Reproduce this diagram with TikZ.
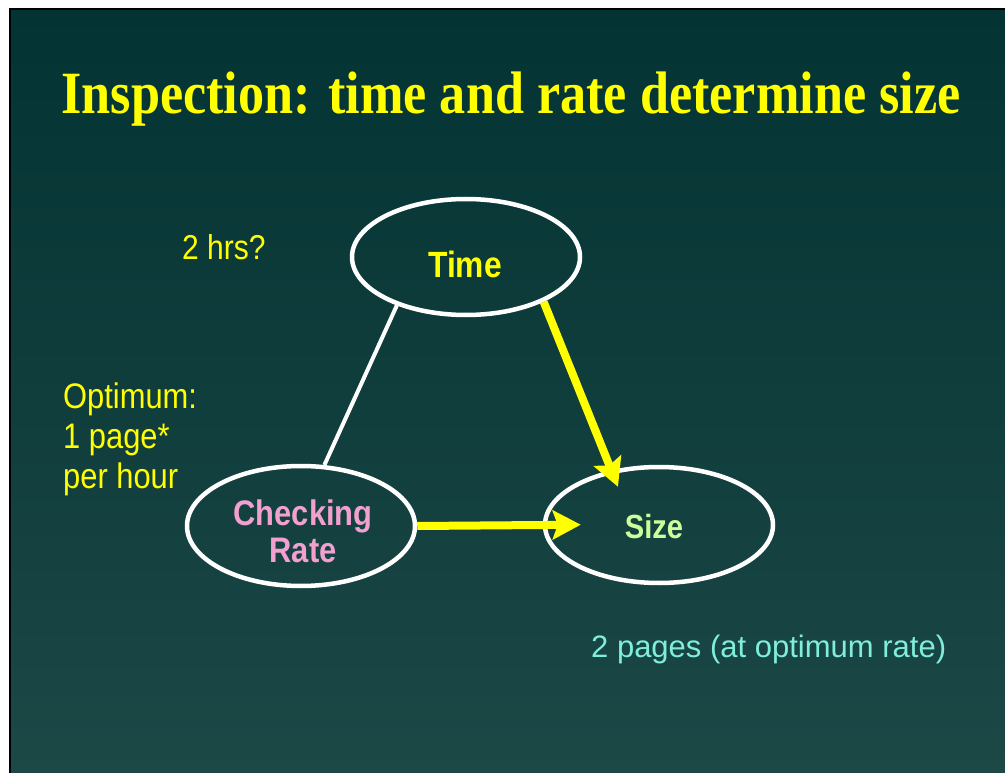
\documentclass[tikz,border=0pt]{standalone}
\usepackage{fontspec}
\usepackage{xcolor}
\usepackage{tikz}
\usetikzlibrary{arrows.meta,shapes.geometric}
\setmainfont{Liberation Sans}
\newfontfamily\titlefont[FakeStretch=0.87]{Liberation Serif}
\newfontfamily\slidefont[FakeStretch=0.87]{Liberation Sans}
\definecolor{slideyellow}{HTML}{FFFF00}
\definecolor{ratepink}{HTML}{F2A0D0}
\definecolor{sizegreen}{HTML}{CCFF99}
\definecolor{notecyan}{HTML}{80EEDD}
\definecolor{bgtop}{HTML}{033333}
\definecolor{bgbottom}{HTML}{1C4846}

\begin{document}
\begin{tikzpicture}[x=1pt,y=-1pt,
  oval/.style={ellipse,draw=white,line width=4.5pt,minimum width=228pt,minimum height=116pt,inner sep=0pt},
  lbl/.style={inner sep=0pt,anchor=base,align=center,font=\slidefont\bfseries\fontsize{35.5}{37}\selectfont},
  note/.style={inner sep=0pt,anchor=base west,align=left,text=slideyellow,font=\slidefont\fontsize{34.5}{40}\selectfont},
  flow/.style={draw=slideyellow,line width=8pt,-{Stealth[length=28pt,width=29pt,inset=5pt]}}]
  \useasboundingbox (0,0) rectangle (1005,773);
  % slide background and frame
  \shade[top color=bgtop,bottom color=bgbottom] (10,9) rectangle (1005,773);
  \draw[line width=2pt] (10,780) -- (10,9) -- (1010,9);

  \node[anchor=base,inner sep=0pt,text=slideyellow,font=\titlefont\bfseries\fontsize{60}{66}\selectfont] (title) at (511,114) {Inspection: time and rate determine size};

  % the three factors
  \node[oval] (time) at (466,257) {};
  \node[oval,minimum height=120pt] (checking) at (301,526) {};
  \node[oval] (size) at (659,525) {};
  \node[lbl,text=slideyellow,font=\slidefont\bfseries\fontsize{36.5}{37}\selectfont] (timetxt) at (465,277) {Time};
  % multi-line nodes sit on their last baseline
  \node[lbl,text=ratepink] (checkingtxt) at (303,562) {Checking\\Rate};
  \node[lbl,text=sizegreen,font=\slidefont\bfseries\fontsize{33.5}{37}\selectfont] (sizetxt) at (654,538) {Size};

  \draw[white,line width=4pt] (time.215) -- (checking.69);
  \draw[flow,shorten >=-18pt] (time.330) -- (size.131);
  \draw[flow,shorten >=-38pt] (checking.east) -- (size.west);

  % side notes
  \node[note] (hours) at (182,259) {2 hrs?};
  \node[note,font=\slidefont\fontsize{35.5}{40}\selectfont] (optimum) at (63,488) {Optimum:\\1 page*\\per hour};
  \node[note,text=notecyan,font=\normalfont\fontsize{31}{37}\selectfont] (pages) at (591,657) {2 pages (at optimum rate)};
\end{tikzpicture}
\end{document}
